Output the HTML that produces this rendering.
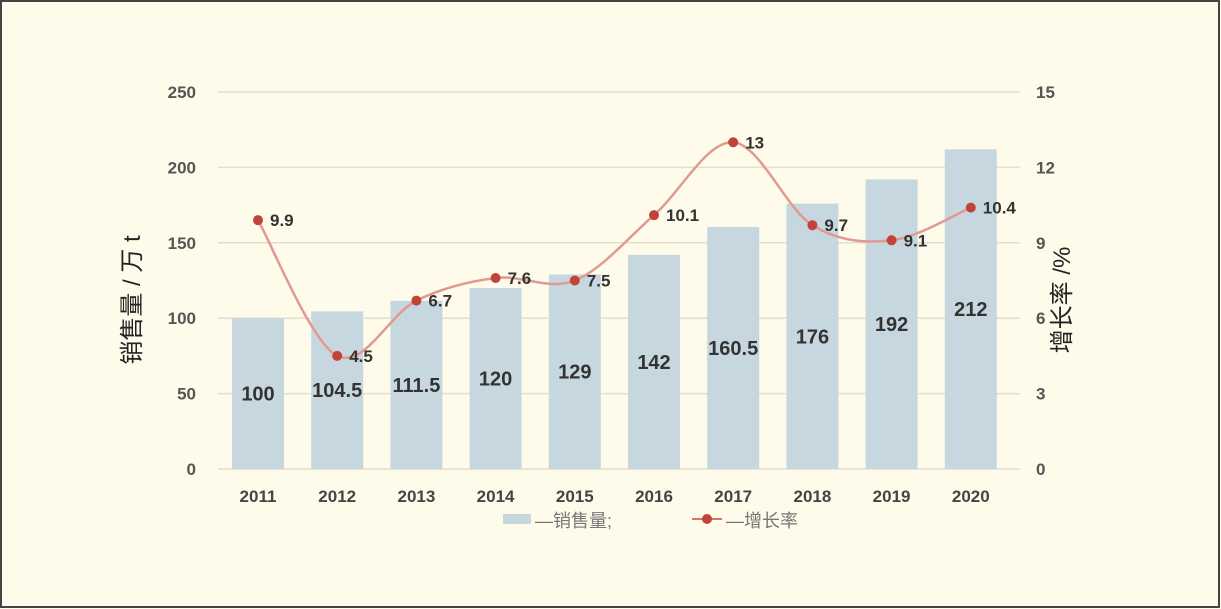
<!DOCTYPE html>
<html><head><meta charset="utf-8"><style>
html,body{margin:0;padding:0;background:#fefbea;}
svg{display:block;font-family:"Liberation Sans","Noto Sans CJK SC",sans-serif;}
</style></head><body>
<svg width="1221" height="609" viewBox="0 0 1221 609">
<rect x="1" y="1" width="1218" height="606" fill="#fefbea" stroke="#444" stroke-width="2"/>
<g id="grid"></g>
<g id="bars"></g>
<g id="line"></g>
<g id="labels"></g>
<text x="140" y="300" transform="rotate(-90 140 300)" text-anchor="middle" font-size="24" fill="#222">销售量 / 万 t</text>
<text x="1070" y="300" transform="rotate(-90 1070 300)" text-anchor="middle" font-size="24" fill="#222">增长率 /%</text>
<g>
<rect x="503" y="514" width="28" height="10" fill="#c7d7df"/>
<text x="535" y="527" font-size="18" fill="#777">—销售量;</text>
<line x1="692" y1="519" x2="722" y2="519" stroke="#d9736a" stroke-width="2"/>
<circle cx="707" cy="519" r="5" fill="#c0443c"/>
<text x="726" y="527" font-size="18" fill="#777">—增长率</text>
</g>
</svg>
<script>
const years=["2011","2012","2013","2014","2015","2016","2017","2018","2019","2020"];
const sales=[100,104.5,111.5,120,129,142,160.5,176,192,212];
const growth=[9.9,4.5,6.7,7.6,7.5,10.1,13,9.7,9.1,10.4];
const leftTicks=[0,50,100,150,200,250];
const rightTicks=[0,3,6,9,12,15];
const NS="http://www.w3.org/2000/svg";
const y0=469,y1=92,x0=218,x1=1020;
const yL=v=>y0-(v/250)*(y0-y1);
const yR=v=>y0-(v/15)*(y0-y1);
const xC=i=>258+i*79.2;
function mk(tag,attrs,parent,txt){const e=document.createElementNS(NS,tag);for(const k in attrs)e.setAttribute(k,attrs[k]);if(txt!==undefined)e.textContent=txt;parent.appendChild(e);return e;}
const grid=document.getElementById('grid'),bars=document.getElementById('bars'),line=document.getElementById('line'),labels=document.getElementById('labels');
leftTicks.forEach((t,i)=>{
  const y=yL(t);
  const g=mk('line',{x1:x0,x2:x1,y1:y,y2:y,stroke:'#e2ded0','stroke-width':1.5},grid);
  
  
  const a=mk('text',{x:196,y:y+6,'text-anchor':'end','font-size':17,'font-weight':'bold',fill:'#555'},labels,String(t));
  
  
  const b=mk('text',{x:1036,y:yR(rightTicks[i])+6,'font-size':17,'font-weight':'bold',fill:'#555'},labels,String(rightTicks[i]));
  
  
});
years.forEach((yr,i)=>{
  const x=xC(i);
  const r=mk('rect',{x:x-26,y:yL(sales[i]),width:52,height:y0-yL(sales[i]),fill:'#c7d7df'},bars);
  
  
  const t=mk('text',{x:x,y:yL(sales[i]/2)+7,'text-anchor':'middle','font-size':20,'font-weight':'bold',fill:'#333'},labels,String(sales[i]));
  
  
  const xl=mk('text',{x:x,y:502,'text-anchor':'middle','font-size':17,'font-weight':'bold',fill:'#444'},labels,yr);
  
  
});
const pts=growth.map((g,i)=>[xC(i),yR(g)]);
let d='M'+pts[0][0]+','+pts[0][1];
for(let i=0;i<pts.length-1;i++){
  const p0=pts[Math.max(i-1,0)],p1=pts[i],p2=pts[i+1],p3=pts[Math.min(i+2,pts.length-1)];
  const c1=[p1[0]+(p2[0]-p0[0])/6,p1[1]+(p2[1]-p0[1])/6];
  const c2=[p2[0]-(p3[0]-p1[0])/6,p2[1]-(p3[1]-p1[1])/6];
  d+=' C'+c1[0]+','+c1[1]+' '+c2[0]+','+c2[1]+' '+p2[0]+','+p2[1];
}
const path=mk('path',{d:d,fill:'none',stroke:'#e09a90','stroke-width':2.5},line);


pts.forEach((p,i)=>{
  const c=mk('circle',{cx:p[0],cy:p[1],r:5,fill:'#c0443c'},line);
  
  
  const t=mk('text',{x:p[0]+12,y:p[1]+6,'font-size':17,'font-weight':'bold',fill:'#333'},labels,String(growth[i]));
  
  
});
</script>
</body></html>
